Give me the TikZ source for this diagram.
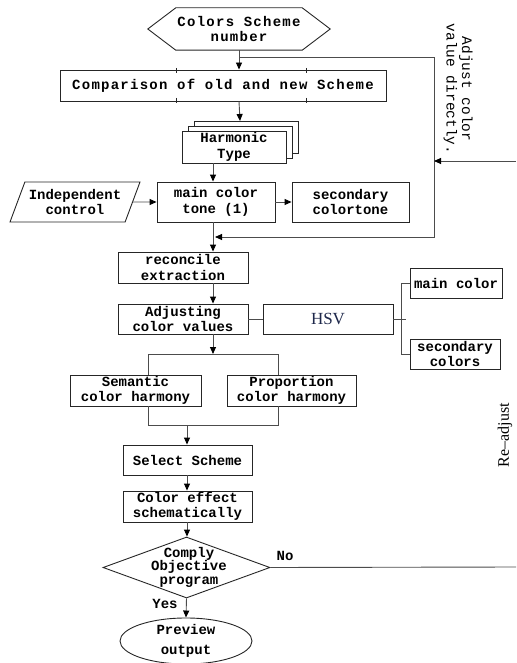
\documentclass[tikz,border=0pt]{standalone}
\usepackage{fontspec}
\usetikzlibrary{arrows.meta,shapes.geometric,shadows,calc}
\newfontfamily\lmono{Liberation Mono}
\newfontfamily\lmonosp[LetterSpace=9]{Liberation Mono}
\newfontfamily\lserif{Liberation Serif}
\definecolor{hsvblue}{RGB}{30,40,75}
\tikzset{
  lin/.style={draw=black!70, line width=0.9pt},
  arr/.style={lin, -{Triangle[length=7pt,width=6pt,fill=black,color=black]}},
  txt/.style={font=\lmono\bfseries\fontsize{14}{15.5}\selectfont, align=center, inner sep=0pt},
  box/.style={txt, draw=black!85, line width=0.9pt, fill=white, rectangle},
  outl/.style={draw=black!85, line width=0.9pt},
}
\begin{document}
\begin{tikzpicture}[x=1pt,y=-1pt]
\useasboundingbox (0,0) rectangle (516,663);
% helper columns
\coordinate (colB) at (213,0);
\coordinate (jm) at (187,425);
% top hexagon
\node[txt, font=\lmonosp\bfseries\fontsize{14}{15.5}\selectfont, minimum width=182pt, minimum height=42pt] (hex) at (239,29) {Colors Scheme\\number};
\draw[outl] (hex.west) -- ($(hex.north west)+(28,0)$) -- ($(hex.north east)+(-28,0)$) -- (hex.east)
  -- ($(hex.south east)+(-28,0)$) -- ($(hex.south west)+(28,0)$) -- cycle;
% comparison
\node[box, font=\lmonosp\bfseries\fontsize{14}{15.5}\selectfont, minimum width=326pt, minimum height=31pt] (comp) at (223,85.5) {Comparison of old and new Scheme};
\draw[outl, line width=0.6pt] (176,68) -- (176,73) (176,98) -- (176,103) (306,68) -- (306,73) (306,98) -- (306,103);
% harmonic type stacked
\node[box, minimum width=104pt, minimum height=32pt, double copy shadow={shadow xshift=6pt, shadow yshift=5pt}] (harm) at (234,147) {Harmonic\\Type};
\coordinate (harmtop) at (240,121);
% row with main color tone
\node[box, minimum width=118pt, minimum height=40pt] (main) at (216,202) {main color\\tone (1)};
\node[txt, trapezium, draw=black!85, line width=0.9pt, trapezium left angle=60, trapezium right angle=120, trapezium stretches body, minimum width=130pt, minimum height=40pt] (ind) at (75,202) {Independent\\control};
\node[box, minimum width=117pt, minimum height=40pt] (sec) at (350.5,202) {secondary\\colortone};
% reconcile / adjusting
\node[box, minimum width=130pt, minimum height=31pt] (recon) at (183,267.5) {reconcile\\extraction};
\node[box, minimum width=130pt, minimum height=30pt] (adj) at (183,319) {Adjusting\\color values};
\node[box, font=\lserif\fontsize{17}{18}\selectfont, text=hsvblue, minimum width=130pt, minimum height=30pt] (hsv) at (328,319) {HSV};
\node[box, minimum width=92pt, minimum height=30pt] (mc) at (456,283) {main color};
\node[box, minimum width=90pt, minimum height=30pt] (sc) at (455,354) {secondary\\colors};
% harmony boxes
\node[box, minimum width=131pt, minimum height=31pt] (sem) at (135.5,390.5) {Semantic\\color harmony};
\node[box, minimum width=129pt, minimum height=31pt] (prop) at (291.5,390.5) {Proportion\\color harmony};
% lower chain
\node[box, minimum width=129pt, minimum height=30pt] (sel) at (187.5,460) {Select Scheme};
\node[box, minimum width=129pt, minimum height=31pt] (eff) at (187.5,506.5) {Color effect\\schematically};
\node[diamond, outl, minimum width=167pt, minimum height=61pt, inner sep=0pt] (dia) at (186.5,567.5) {};
\node[txt, font=\lmono\bfseries\fontsize{14}{13.5}\selectfont] (diat) at (189,567) {Comply\\Objective\\program};
\node[txt, ellipse, outl, minimum width=132pt, minimum height=42pt] (ell) at (186,641) {Preview\\[4pt]output};
% labels
\node[txt] (no) at (285,556) {No};
\node[txt] (yes) at (165,604) {Yes};
\node[font=\lmono\fontsize{14.5}{15.5}\selectfont, rotate=-90, align=center, inner sep=0pt] (adjlab) at (458,89) {Adjust color\\value directly.};
\node[font=\lserif\fontsize{16}{17}\selectfont, rotate=90, inner sep=0pt] (readj) at (505,435) {Re–adjust};
% feedback coordinates
\coordinate (lp1) at (240,57);
\coordinate (lp2) at (434,237);
\coordinate (lp3) at (215,237);
\coordinate (rin) at (516,161);
\coordinate (rend) at (516,567);
\coordinate (vb) at (401,0);
\coordinate (bl) at (148,354);
\coordinate (br) at (278,354);
\coordinate (jl) at (148,425);
\coordinate (jr) at (278,425);
% connectors
\draw[arr] (hex.south) -- (hex.south |- comp.north);
\draw[arr] (hex.south |- comp.south) -- (harmtop);
\draw[arr] (lp1) -| (lp2) -- (lp3);
\draw[arr] (rin) -- (rin -| lp2);
\draw[arr] (harm.south -| colB) -- (main.north -| colB);
\draw[arr] (ind.east) -- (main.west);
\draw[arr] (main.east) -- (sec.west);
\draw[arr] (main.south -| colB) -- (recon.north -| colB);
\draw[arr] (recon.south -| colB) -- (adj.north -| colB);
\draw[lin] (adj.east) -- (hsv.west);
\draw[lin] (hsv.east) -- ($(hsv.east -| vb)+(5,0)$);
\draw[lin] (mc.west) -- (mc.west -| vb) -- (sc.west -| vb) -- (sc.west);
\draw[arr] (adj.south -| colB) -- (bl -| colB);
\draw[lin] (bl |- sem.north) -- (bl) -- (br) -- (br |- prop.north);
\draw[lin] (bl |- sem.south) -- (jl) -- (jr) -- (br |- prop.south);
\draw[arr] (jm) -- (sel.north -| jm);
\draw[arr] (sel.south -| jm) -- (eff.north -| jm);
\draw[arr] (eff.south -| jm) -- (dia.north -| jm);
\draw[arr] (dia.south) -- (ell.north);
\draw[lin] (dia.east) -- (rend);
\end{tikzpicture}
\end{document}
